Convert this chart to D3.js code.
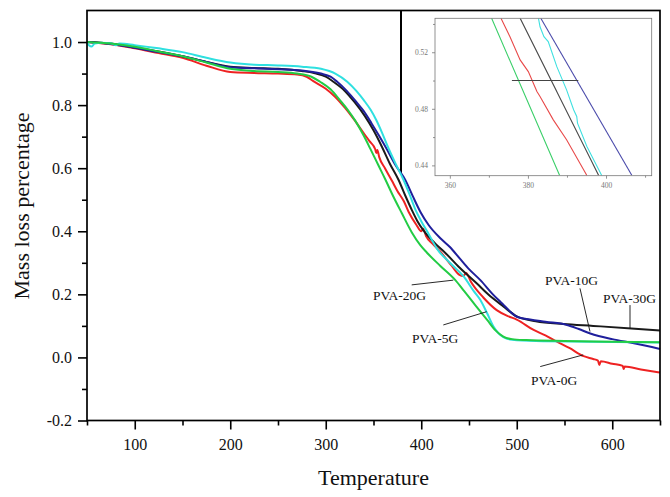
<!DOCTYPE html>
<html><head><meta charset="utf-8">
<script src="https://cdn.jsdelivr.net/npm/d3@7"></script>
<style>
body{margin:0;background:#fff}
svg{display:block}
text{font-family:"Liberation Serif","Times New Roman",serif}
</style>
</head><body>
<svg id="c" width="670" height="497"></svg>
<script>
// ---------- data ----------
const xTicks = [100, 200, 300, 400, 500, 600];
const xMinor = [50, 150, 250, 350, 450, 550, 650];
const yTicks = [-0.2, 0.0, 0.2, 0.4, 0.6, 0.8, 1.0];
const yMinor = [-0.1, 0.1, 0.3, 0.5, 0.7, 0.9];

const pva0G = [[50,1.0],[75,0.993],[100,0.98],[125,0.965],[150,0.95],[175,0.925],[200,0.905],[225,0.902],[250,0.9],[270,0.897],[280,0.89],[287,0.876],[300,0.852],[310,0.826],[320,0.792],[329,0.757],[340,0.71],[346,0.685],[351.8,0.66],[353,0.648],[354,0.658],[356,0.635],[362,0.6],[369.3,0.56],[375,0.528],[381.8,0.495],[386.7,0.462],[395,0.42],[400,0.4],[402,0.408],[405,0.385],[412,0.36],[420,0.335],[432,0.29],[440,0.262],[444,0.258],[447,0.268],[452,0.24],[465,0.19],[479,0.15],[490,0.132],[500,0.12],[517.7,0.087],[530,0.07],[542,0.05],[555,0.03],[570,0.004],[580,-0.005],[585,-0.01],[586.5,-0.024],[588,-0.012],[600,-0.02],[611,-0.027],[612,-0.037],[613,-0.029],[630,-0.038],[650,-0.048]];
const pva5G = [[50,1.0],[52,0.99],[55,0.986],[58,0.995],[65,0.998],[75,0.996],[80,0.99],[84,0.995],[100,0.99],[125,0.98],[150,0.968],[175,0.95],[200,0.935],[225,0.928],[250,0.926],[275,0.922],[295,0.915],[310,0.9],[322.5,0.874],[332,0.845],[340,0.815],[347,0.785],[353,0.752],[359,0.712],[365,0.668],[373,0.615],[381.5,0.5625],[388,0.515],[394,0.468],[400,0.432],[408,0.39],[416.4,0.345],[430,0.3],[444.6,0.256],[455,0.21],[461.9,0.182],[469,0.14],[475.8,0.097],[486,0.064],[495,0.056],[520,0.052],[580,0.05],[650,0.047]];
const pva10G = [[50,1.0],[75,0.994],[100,0.982],[125,0.968],[150,0.955],[175,0.937],[200,0.92],[225,0.917],[250,0.914],[275,0.91],[295,0.9],[305,0.89],[312,0.874],[322,0.845],[332,0.81],[340,0.78],[348,0.742],[356,0.702],[364,0.66],[373,0.61],[383.3,0.5625],[391,0.512],[399,0.462],[407.7,0.42],[420,0.378],[430,0.35],[440,0.315],[450,0.28],[461.9,0.245],[475,0.2],[485,0.17],[493.3,0.145],[500,0.129],[514,0.12],[530,0.113],[552.7,0.103],[565,0.09],[577,0.076],[600,0.058],[622.7,0.045],[650,0.027]];
const pva20G = [[50,1.0],[75,0.995],[100,0.985],[125,0.97],[150,0.955],[175,0.935],[200,0.915],[225,0.908],[250,0.905],[270,0.9],[285,0.89],[294,0.874],[305,0.85],[315,0.815],[323,0.785],[331,0.75],[340,0.702],[346.6,0.662],[355,0.61],[362.3,0.565],[370,0.515],[379.7,0.457],[390,0.397],[399,0.356],[406,0.332],[420,0.29],[435.7,0.245],[445,0.21],[454.9,0.172],[462,0.145],[469,0.119],[478,0.085],[486,0.066],[495,0.058],[510,0.055],[550,0.052],[600,0.05],[650,0.048]];
const pva30G = [[50,1.0],[75,0.995],[100,0.983],[125,0.97],[150,0.955],[175,0.937],[200,0.922],[225,0.918],[250,0.915],[275,0.908],[290,0.9],[300,0.89],[308,0.874],[320,0.845],[330,0.81],[341,0.765],[350,0.72],[358.8,0.668],[367,0.615],[376.3,0.5625],[383,0.515],[390.2,0.467],[396,0.432],[402.5,0.402],[415,0.36],[425,0.332],[440,0.285],[458,0.235],[470,0.2],[486.3,0.161],[500,0.13],[520,0.115],[549,0.106],[580,0.1],[620,0.092],[650,0.085]];

// inset (zoomed view)
const insetXTicks = [360, 380, 400];
const insetXMinor = [370, 390, 410];
const insetYTicks = [0.44, 0.48, 0.52];
const insetYMinor = [0.46, 0.50, 0.54];
const in0G = [[373.1,0.544],[375.4,0.531],[378.0,0.5146],[380.1,0.5063],[382.3,0.4922],[383.1,0.4887],[386.5,0.4722],[389.9,0.4581],[395.1,0.4329]];
const in5G = [[382.7,0.544],[383.1,0.538],[383.6,0.5345],[384.1,0.531],[385.2,0.5275],[387.4,0.5098],[389.9,0.4934],[391.7,0.4793],[392.5,0.4746],[392.7,0.4699],[395.1,0.4534],[398.9,0.4329]];
const in10G = [[383.3,0.544],[406.6,0.433]];
const in20G = [[370.7,0.544],[379.4,0.4885],[388.1,0.433]];
const in30G = [[378.0,0.544],[398.1,0.433]];
const inRef = [[375.9,0.5],[392.9,0.5]];

const colors = {red:"#ee2222", cyan:"#2fe0e0", blue:"#1f1f9c", green:"#22cc44", black:"#1a1a1a"};

// ---------- drawing ----------
const svg = d3.select("#c");
const L = 87, R = 660, T = 10.5, B = 420.5;
const x = d3.scaleLinear().domain([50, 650]).range([L, R]);
const y = d3.scaleLinear().domain([-0.2, 1.1]).range([B, T]);
const fmt1 = d => d3.format(".1f")(d).replace("\u2212", "-");

// inset first (curves of main plot pass over its corner)
const iL = 435, iR = 651.7, iT = 18.3, iB = 175.7;
const ix = d3.scaleLinear().domain([356.2, 411.7]).range([iL, iR]);
const iy = d3.scaleLinear().domain([0.4327, 0.544]).range([iB, iT]);
const ins = svg.append("g");
ins.append("rect").attr("x", 401).attr("y", T).attr("width", R - 401).attr("height", 188).attr("fill", "#fff");
ins.append("line").attr("x1", 401).attr("x2", 401).attr("y1", T).attr("y2", 174).attr("stroke", "#000").attr("stroke-width", 2);
ins.append("clipPath").attr("id", "iclip").append("rect").attr("x", iL).attr("y", iT).attr("width", iR - iL).attr("height", iB - iT);
const iline = d3.line().x(d => ix(d[0])).y(d => iy(d[1]));
const ig = ins.append("g").attr("clip-path", "url(#iclip)");
[[in20G, "#3ccf6a"], [in0G, "#e84a4a"], [in30G, "#444"], [in5G, "#3fe0e0"], [in10G, "#4a4aaa"], [inRef, "#444"]].forEach(([d, c]) => {
  ig.append("path").datum(d).attr("d", iline).attr("fill", "none").attr("stroke", c).attr("stroke-width", 1.1);
});
ins.append("rect").attr("x", iL).attr("y", iT).attr("width", iR - iL).attr("height", iB - iT).attr("fill", "none").attr("stroke", "#777").attr("stroke-width", 0.8);
function styleInsetAxis(g) {
  g.select(".domain").remove();
  g.selectAll("line").attr("stroke", "#777").attr("stroke-width", 0.8);
  g.selectAll("text").attr("fill", "#777").style("font-size", "7.5px");
}
ins.append("g").attr("transform", `translate(0,${iB})`).call(d3.axisBottom(ix).tickValues(insetXTicks).tickSize(3).tickSizeOuter(0).tickPadding(4).tickFormat(d3.format("d"))).call(styleInsetAxis);
ins.append("g").attr("transform", `translate(0,${iB})`).call(d3.axisBottom(ix).tickValues(insetXMinor).tickSize(2).tickSizeOuter(0).tickFormat("")).call(styleInsetAxis);
ins.append("g").attr("transform", `translate(${iL},0)`).call(d3.axisLeft(iy).tickValues(insetYTicks).tickSize(3).tickSizeOuter(0).tickPadding(4).tickFormat(d3.format(".2f"))).call(styleInsetAxis);
ins.append("g").attr("transform", `translate(${iL},0)`).call(d3.axisLeft(iy).tickValues(insetYMinor).tickSize(2).tickSizeOuter(0).tickFormat("")).call(styleInsetAxis);

// main curves
const line = d3.line().x(d => x(d[0])).y(d => y(d[1])).curve(d3.curveMonotoneX);
const series = [[pva0G, colors.red], [pva30G, colors.black], [pva10G, colors.blue], [pva5G, colors.cyan], [pva20G, colors.green]];
series.forEach(([d, c]) => {
  svg.append("path").datum(d).attr("d", line).attr("fill", "none").attr("stroke", c).attr("stroke-width", 2).attr("stroke-linejoin", "round");
});

// axes
function styleAxis(g, fs) {
  g.select(".domain").remove();
  g.selectAll("line").attr("stroke", "#000").attr("stroke-width", 1.6);
  g.selectAll("text").attr("fill", "#111").style("font-size", fs);
}
svg.append("g").attr("transform", `translate(0,${B})`).call(d3.axisBottom(x).tickValues(xTicks).tickSize(9).tickSizeOuter(0).tickPadding(9).tickFormat(d3.format("d"))).call(g => styleAxis(g, "16px"));
svg.append("g").attr("transform", `translate(0,${B})`).call(d3.axisBottom(x).tickValues(xMinor).tickSize(5).tickSizeOuter(0).tickFormat("")).call(g => styleAxis(g, "16px"));
svg.append("g").attr("transform", `translate(${L},0)`).call(d3.axisLeft(y).tickValues(yTicks).tickSize(9).tickSizeOuter(0).tickPadding(6).tickFormat(fmt1)).call(g => styleAxis(g, "16px"));
svg.append("g").attr("transform", `translate(${L},0)`).call(d3.axisLeft(y).tickValues(yMinor).tickSize(5).tickSizeOuter(0).tickFormat("")).call(g => styleAxis(g, "16px"));

// frame
svg.append("rect").attr("x", L).attr("y", T).attr("width", R - L).attr("height", B - T).attr("fill", "none").attr("stroke", "#000").attr("stroke-width", 1.7);

// titles
svg.append("text").attr("x", (L + R) / 2).attr("y", 485).attr("text-anchor", "middle").style("font-size", "22px").attr("fill", "#111").text("Temperature");
svg.append("text").attr("transform", `translate(29,206) rotate(-90)`).attr("text-anchor", "middle").style("font-size", "22px").attr("fill", "#111").text("Mass loss percentage");

// annotations
const notes = [
  {t: "PVA-20G", at: [349.5, 0.182], a: [390, 0.23], b: [433.6, 0.245]},
  {t: "PVA-5G", at: [390.3, 0.045], a: [423.1, 0.103], b: [468.5, 0.145]},
  {t: "PVA-10G", at: [529.6, 0.23], a: [566.2, 0.219], b: [576.7, 0.082]},
  {t: "PVA-30G", at: [590.3, 0.173], a: [618.6, 0.166], b: [618.6, 0.092]},
  {t: "PVA-0G", at: [515, -0.087], a: [524.6, -0.029], b: [569.6, 0.008]}
];
notes.forEach(n => {
  svg.append("line").attr("x1", x(n.a[0])).attr("y1", y(n.a[1])).attr("x2", x(n.b[0])).attr("y2", y(n.b[1])).attr("stroke", "#111").attr("stroke-width", 0.9);
  svg.append("text").attr("x", x(n.at[0])).attr("y", y(n.at[1])).style("font-size", "13.5px").attr("fill", "#111").text(n.t);
});
</script>
</body></html>
